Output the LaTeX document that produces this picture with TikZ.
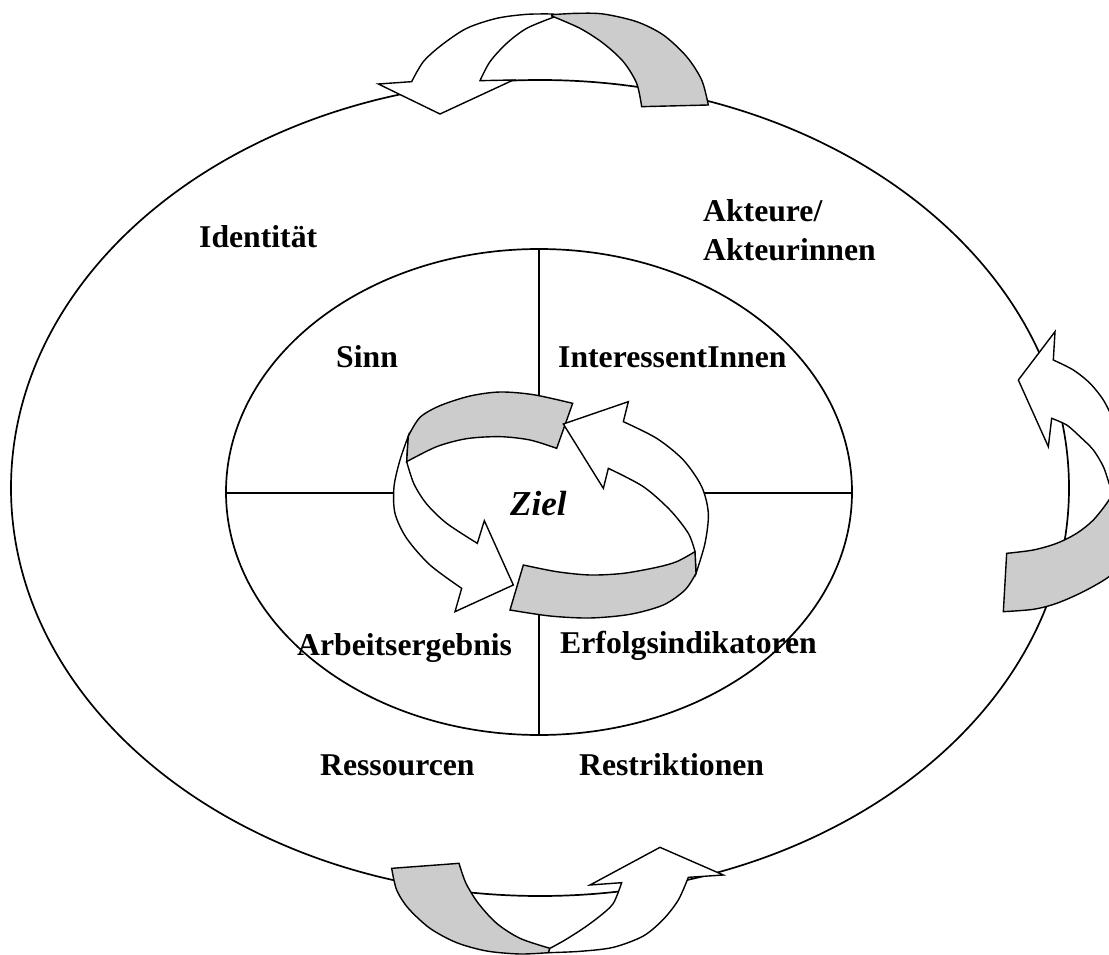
\documentclass[tikz,border=0pt]{standalone}
\usepackage{fontspec}
\setmainfont{Liberation Serif}
\definecolor{ribbongray}{RGB}{204,204,204}
\begin{document}
\begin{tikzpicture}[x=1pt,y=-1pt,
  ring/.style={line width=1.7pt},
  divider/.style={line width=1.4pt},
  whitearrow/.style={draw, fill=white, line width=1.4pt, line join=miter},
  backband/.style={draw, fill=ribbongray, line width=1.4pt, line join=miter},
  lbl/.style={font=\fontsize{31.7}{36}\selectfont\bfseries, inner sep=0pt, anchor=base west}]
\useasboundingbox (0,0) rectangle (1109,955);
\clip (0,0) rectangle (1109,955);

% outer and inner rings with the quadrant dividers
\coordinate (outerC) at (540,488);
\coordinate (innerC) at (539,492);
\draw[ring] (outerC) ellipse [x radius=529, y radius=408];
\draw[ring] (innerC) ellipse [x radius=313, y radius=243];
\coordinate (vTop) at (539,249);
\coordinate (vBot) at (539,735);
\coordinate (hLeft) at (226,493);
\coordinate (hRight) at (852,493);
\draw[divider] (vTop) -- (vBot);
\draw[divider] (hLeft) -- (hRight);

% labels
\node[lbl] (identitaet) at (199,247) {Identität};
\node[lbl] (akteure) at (703,222) {Akteure/};
\node[lbl] (akteurinnen) at (703,260) {Akteurinnen};
\node[lbl] (sinn) at (336,367) {Sinn};
\node[lbl] (interessenten) at (558,367) {InteressentInnen};
\node[lbl] (arbeit) at (297,655) {Arbeitsergebnis};
\node[lbl, anchor=base east] (erfolg) at (817,653) {Erfolgsindikatoren};
\node[lbl] (ressourcen) at (320,775) {Ressourcen};
\node[lbl] (restriktionen) at (579,775) {Restriktionen};

% ribbon arrow on top of the outer ring
\begin{scope}[shift={(370,0)},scale=1/3]
  \draw[whitearrow] plot[smooth] coordinates {(125,245) (160,185) (215,135) (290,85) (380,55) (470,43) (550,42)}
    -- plot[smooth] coordinates {(550,52) (470,85) (410,130) (360,185) (330,242)}
    -- (430,240) -- (210,342) -- (25,252) -- cycle;
  \draw[backband] plot[smooth] coordinates {(545,44) (620,40) (700,42) (800,65) (880,105) (950,170) (995,240) (1015,315)}
    -- (815,320)
    -- plot[smooth] coordinates {(815,320) (800,250) (760,185) (700,130) (630,85) (545,48)} -- cycle;
\end{scope}

% ribbon arrow on the right of the outer ring
\begin{scope}[shift={(990,290)},scale=1/3]
  \draw[whitearrow] (85,270) -- (195,125) -- (190,210)
    -- plot[smooth] coordinates {(190,210) (250,240) (300,280) (340,330) (370,390) (390,450)}
    -- (430,700)
    -- plot[smooth] coordinates {(357,580) (340,530) (310,480) (270,440) (230,405) (185,385)}
    -- (175,470) -- cycle;
  \draw[backband] plot[smooth] coordinates {(50,790) (130,780) (200,760) (260,730) (310,690) (357,630) (390,570)}
    -- (450,700)
    -- plot[smooth] coordinates {(420,800) (357,860) (280,905) (200,940) (130,958) (40,965)} -- cycle;
\end{scope}

% ribbon arrow at the bottom of the outer ring
\begin{scope}[shift={(380,760)},scale=1/3]
  \draw[backband] plot[smooth] coordinates {(35,325) (50,390) (85,445) (150,505) (230,548) (320,573) (420,582) (505,578)}
    -- plot[smooth] coordinates {(510,565) (420,535) (350,490) (295,430) (258,370) (237,310)} -- cycle;
  \draw[whitearrow] plot[smooth] coordinates {(505,578) (600,574) (700,562) (790,528) (850,478) (895,420) (925,352)}
    -- (1030,345) -- (840,262) -- (630,375) -- (725,368)
    -- plot[smooth] coordinates {(725,368) (700,430) (660,468) (610,505) (555,540) (510,565)} -- cycle;
\end{scope}

% circular ribbon arrows around the centre, over a blank core
\begin{scope}[shift={(390,280)},scale=1/3]
  \fill[white] plot[smooth cycle] coordinates {(60,480) (200,382) (400,352) (540,380) (700,440) (880,560)
    (935,700) (900,860) (700,985) (450,985) (250,930) (60,780) (25,640)};
  \draw[whitearrow] plot[smooth] coordinates {(55,468) (30,540) (12,620) (15,700) (50,775) (120,855) (215,925)}
    -- (195,995) -- (370,915) -- (283,722) -- (262,790)
    -- plot[smooth] coordinates {(262,790) (170,730) (110,672) (72,612) (50,545)} -- cycle;
  \draw[backband] plot[smooth] coordinates {(55,468) (90,412) (150,377) (240,348) (330,336) (430,344) (548,370)}
    -- (500,505)
    -- plot[smooth] coordinates {(500,505) (420,480) (330,470) (230,476) (140,500) (50,545)} -- cycle;
  \draw[whitearrow] (520,432) -- (715,365) -- (700,425)
    -- plot[smooth] coordinates {(700,425) (800,475) (880,540) (935,620) (955,700) (945,790) (918,880)}
    -- plot[smooth] coordinates {(915,815) (895,760) (840,690) (760,620) (655,565)}
    -- (640,625) -- cycle;
  \draw[backband] plot[smooth] coordinates {(360,990) (480,1008) (600,1014) (720,1003) (820,975) (885,930) (918,880)}
    -- (915,815)
    -- plot[smooth] coordinates {(915,815) (860,845) (800,862) (700,880) (600,885) (500,875) (400,855)} -- cycle;
\end{scope}

\node[lbl, font=\fontsize{35}{40}\selectfont\bfseries\itshape] (ziel) at (510,515) {Ziel};
\end{tikzpicture}
\end{document}
